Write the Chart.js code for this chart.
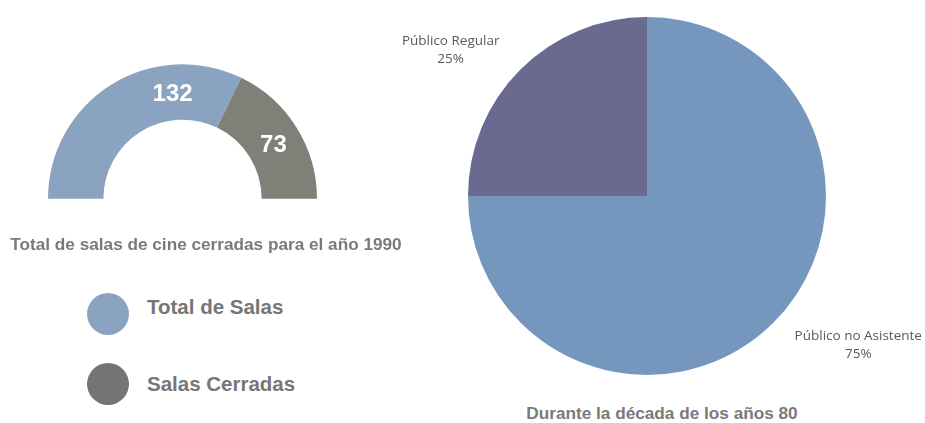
<!DOCTYPE html>
<html>
<head>
<meta charset="utf-8">
<script src="https://cdn.jsdelivr.net/npm/chart.js@4.4.1/dist/chart.umd.min.js"></script>
<style>
  html, body { margin: 0; padding: 0; background: #ffffff; }
  body { width: 925px; height: 423px; position: relative; overflow: hidden; }
  #gauge { position: absolute; left: 48px; top: 64px; }
  #pie { position: absolute; left: 380px; top: 0px; }
  .title { position: absolute; font-family: "Liberation Sans", Arial, sans-serif; font-weight: bold; font-size: 17.2px; color: #7a7a7a; white-space: nowrap; transform: translate(-50%, -50%); }
  .leg { position: absolute; font-family: "Liberation Sans", Arial, sans-serif; font-weight: bold; font-size: 20.5px; color: #767676; white-space: nowrap; }
  .leg .dot { position: absolute; width: 42px; height: 42px; border-radius: 50%; left: 0; top: 0; }
  .leg .txt { position: absolute; left: 60px; transform: translateY(-50%); }
</style>
</head>
<body>
<canvas id="gauge" width="269" height="135"></canvas>
<canvas id="pie" width="545" height="395"></canvas>
<div class="title" id="t1" style="left:206px; top:244px;"></div>
<div class="title" id="t2" style="left:662px; top:413px;"></div>
<div id="legend"></div>
<script>
// ---- data ----
const gaugeLabels = ["Total de Salas", "Salas Cerradas"];
const gaugeValues = [132, 73];
const gaugeColors = ["#8aa3c0", "#807f78"];
const legendColors = ["#8aa3c0", "#747474"];
const gaugeTitle = "Total de salas de cine cerradas para el año 1990";

const pieLabels = ["Público no Asistente", "Público Regular"];
const pieValues = [75, 25];
const pieColors = ["#7597be", "#6a6a91"];
const pieTitle = "Durante la década de los años 80";

document.getElementById('t1').textContent = gaugeTitle;
document.getElementById('t2').textContent = pieTitle;

// legend from data
const legendEl = document.getElementById('legend');
const legendTops = [293, 363];
const legendTextMid = [14, 21];
gaugeLabels.forEach((lab, i) => {
  const d = document.createElement('div');
  d.className = 'leg';
  d.style.left = '87px';
  d.style.top = legendTops[i] + 'px';
  d.style.height = '42px';
  d.innerHTML = '<div class="dot" style="background:' + legendColors[i] + '"></div><div class="txt"></div>';
  const t = d.querySelector('.txt');
  t.textContent = lab;
  t.style.top = legendTextMid[i] + 'px';
  legendEl.appendChild(d);
});

// plugin: value labels inside gauge arcs
const gaugeValueLabels = {
  id: 'gaugeValueLabels',
  afterDatasetsDraw(chart, args, opts) {
    const ctx = chart.ctx;
    const meta = chart.getDatasetMeta(0);
    ctx.save();
    ctx.font = 'bold 24px "Liberation Sans", Arial, sans-serif';
    ctx.fillStyle = '#ffffff';
    ctx.textAlign = 'center';
    ctx.textBaseline = 'middle';
    meta.data.forEach((arc, i) => {
      const p = arc.getProps(['x','y','startAngle','endAngle','innerRadius','outerRadius'], true);
      const f = opts.fractions[i];
      const a = p.startAngle + (p.endAngle - p.startAngle) * f;
      const r = (p.innerRadius + p.outerRadius) / 2 - 1;
      ctx.fillText(String(chart.data.datasets[0].data[i]), p.x + Math.cos(a) * r, p.y + Math.sin(a) * r + 1);
    });
    ctx.restore();
  }
};

// plugin: outside labels for pie
const pieOutLabels = {
  id: 'pieOutLabels',
  afterDatasetsDraw(chart, args, opts) {
    const ctx = chart.ctx;
    const meta = chart.getDatasetMeta(0);
    const data = chart.data.datasets[0].data;
    const total = data.reduce((s, v) => s + v, 0);
    ctx.save();
    ctx.font = '13.5px "Open Sans", sans-serif';
    ctx.fillStyle = '#5a5a5a';
    ctx.textAlign = 'center';
    ctx.textBaseline = 'middle';
    meta.data.forEach((arc, i) => {
      const p = arc.getProps(['x','y','startAngle','endAngle','outerRadius'], true);
      const a = (p.startAngle + p.endAngle) / 2;
      const ex = p.x + Math.cos(a) * p.outerRadius;
      const ey = p.y + Math.sin(a) * p.outerRadius;
      const lines = [chart.data.labels[i], Math.round(data[i] / total * 100) + '%'];
      const w = Math.max(...lines.map(l => ctx.measureText(l).width));
      const sx = Math.cos(a) >= 0 ? 1 : -1;
      const sy = Math.sin(a) >= 0 ? 1 : -1;
      const cx = ex + sx * (opts.gapX + w / 2);
      const cy = ey + sy * opts.gapY + 2;
      ctx.fillText(lines[0], cx, cy - 9);
      ctx.fillText(lines[1], cx, cy + 9);
    });
    ctx.restore();
  }
};

new Chart(document.getElementById('gauge'), {
  type: 'doughnut',
  data: {
    labels: gaugeLabels,
    datasets: [{ data: gaugeValues, backgroundColor: gaugeColors, borderWidth: 0 }]
  },
  options: {
    responsive: false,
    animation: false,
    rotation: -90,
    circumference: 180,
    cutout: '58.8%',
    layout: { padding: 0 },
    plugins: {
      legend: { display: false },
      tooltip: { enabled: false },
      gaugeValueLabels: { fractions: [0.73, 0.52] }
    }
  },
  plugins: [gaugeValueLabels]
});

new Chart(document.getElementById('pie'), {
  type: 'pie',
  data: {
    labels: pieLabels,
    datasets: [{ data: pieValues, backgroundColor: pieColors, borderWidth: 0 }]
  },
  options: {
    responsive: false,
    animation: false,
    layout: { padding: { left: 88, right: 99, top: 17, bottom: 20 } },
    plugins: {
      legend: { display: false },
      tooltip: { enabled: false },
      pieOutLabels: { gapX: 21, gapY: 21 }
    }
  },
  plugins: [pieOutLabels]
});
</script>
</body>
</html>
